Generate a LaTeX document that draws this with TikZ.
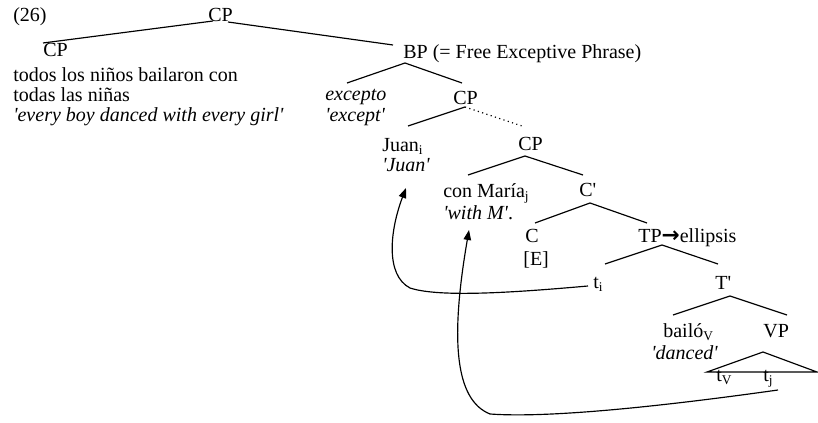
\documentclass[tikz,border=0pt]{standalone}
\usepackage{fontspec}
\setmainfont{Liberation Serif}
\newfontfamily\arrfont{DejaVu Sans}
\usetikzlibrary{arrows.meta,calc}
\newcommand{\qt}{\textquotesingle}
\begin{document}
\begin{tikzpicture}[x=0.6pt, y=-0.6pt, font=\fontsize{12}{14}\selectfont,
  w/.style={inner sep=0pt, anchor=base west},
  br/.style={line width=0.7pt},
  mv/.style={line width=0.7pt, -{Triangle[length=6pt,width=4.5pt]}}]
\useasboundingbox (0,0) rectangle (818,423);
\node[w] (n26) at (13,22) {(26)};
\node[w] (cp0) at (208,22) {CP};
\node[w] (cp1) at (43,57) {CP};
\node[w] (s1) at (13,82) {todos los niños bailaron con};
\node[w] (s2) at (13,102) {todas las niñas};
\node[w] (s3) at (13,122) {\textit{\qt every boy danced with every girl\qt}};
\node[w] (bp) at (403,59) {BP (= Free Exceptive Phrase)};
\node[w] (exc) at (325,101) {\textit{excepto}};
\node[w] (excgl) at (325,122) {\textit{\qt except\qt}};
\node[w] (cp2) at (453,105) {CP};
\node[w] (juan) at (382,152) {Juan\textsubscript{i}};
\node[w] (juangl) at (382,172) {\textit{\qt Juan\qt}};
\node[w] (cp3) at (518,151) {CP};
\node[w] (maria) at (443,198) {con María\textsubscript{j}};
\node[w] (mariagl) at (443,220) {\textit{\qt with M\qt}.};
\node[w] (cbar) at (579,197) {C\qt};
\node[w] (c) at (525,243) {C};
\node[w] (e) at (523,266) {[E]};
\node[w] (tp) at (638,243) {TP{\arrfont\bfseries\fontsize{13}{14}\selectfont →}ellipsis};
\node[w] (ti) at (593,289) {t\textsubscript{i}};
\node[w] (tbar) at (715,290) {T\qt};
\node[w] (bailo) at (663,338) {bailó\textsubscript{V}};
\node[w] (bailogl) at (651,360) {\textit{\qt danced\qt}};
\node[w] (vp) at (763,338) {VP};
\node[w] (tv) at (716,382) {t\textsubscript{V}};
\node[w] (tj) at (763,382) {t\textsubscript{j}};
\draw[br] ($(cp0.base west)+(5,-1)$) -- ($(cp1.base west)+(0,-14)$);
\draw[br] ($(cp0.base west)+(20,0)$) -- ($(bp.base west)+(-10,-14)$);
\draw[br] ($(exc.base west)+(22,-18)$) -- ($(bp.base west)+(2,4)$) -- ($(cp2.base west)+(9,-22)$);
\draw[br] ($(juan.base west)+(26,-26)$) -- ($(cp2.base west)+(12,2)$);
\draw[br, dotted] ($(cp2.base west)+(12,2)$) -- ($(cp3.base west)+(4,-25)$);
\draw[br] ($(maria.base west)+(25,-23)$) -- ($(cp3.base west)+(7,5)$) -- ($(cbar.base west)+(4,-22)$);
\draw[br] ($(c.base west)+(10,-20)$) -- ($(cbar.base west)+(11,6)$) -- ($(tp.base west)+(9,-20)$);
\draw[br] ($(ti.base west)+(12,-25)$) -- ($(tp.base west)+(24,2)$) -- ($(tbar.base west)+(3,-26)$);
\draw[br] ($(bailo.base west)+(10,-23)$) -- ($(tbar.base west)+(15,6)$) -- ($(vp.base west)+(24,-23)$);
\draw[br] ($(tv.base west)+(-9,-10)$) -- ($(vp.base west)+(0,14)$) -- ($(tj.base west)+(54,-10)$) -- cycle;
\draw[mv] ($(ti.base west)+(-5,-3)$) .. controls (520,292) and (440,298) .. (410,288)
  .. controls (385,275) and (390,230) .. ($(juangl.base west)+(24,16)$);
\draw[mv] ($(tj.base west)+(15,8)$) .. controls (650,408) and (545,418) .. (490,414)
  .. controls (455,400) and (450,340) .. ($(mariagl.base west)+(26,10)$);
\end{tikzpicture}
\end{document}
